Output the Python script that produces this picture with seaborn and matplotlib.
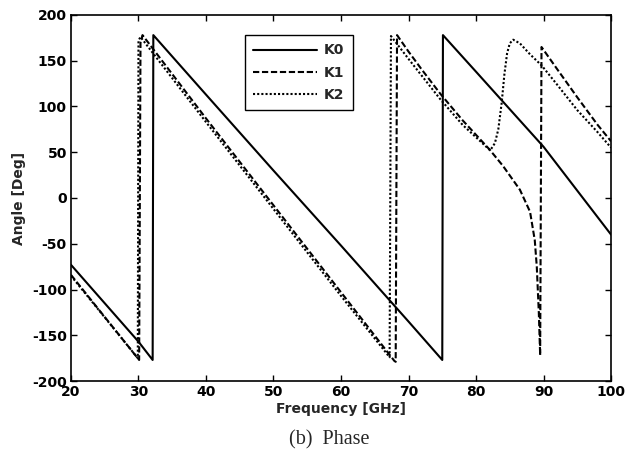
import numpy as np
import pandas as pd
import matplotlib
matplotlib.use("Agg")
import matplotlib.pyplot as plt
import seaborn as sns

# phase of K0 / K1 / K2 (frequency in GHz, angle in deg)
k0_freq = [20, 30, 32.1, 32.2, 40, 50, 60, 70, 75.0, 75.1, 80, 90, 100]
k0_angle = [-73, -157, -177, 178, 113, 30, -52, -135, -177, 178, 138, 56, -40]

k1_freq = [20, 30.1, 30.3, 30.6, 40, 50, 60, 67.9, 68.1, 68.3, 70, 72, 74.7, 78, 82, 84,
           86.5, 88, 88.7, 89.0, 89.3, 89.5, 89.7, 92, 95, 98, 100]
k1_angle = [-84, -177, 170, 178, 87, -8, -103, -178, -179, 178, 160, 140, 114, 85, 53, 35,
            9, -15, -46, -75, -125, -172, 165, 141, 110, 80, 62]

k2_freq = [20, 29.9, 30.0, 30.3, 40, 50, 60, 67.2, 67.4, 70, 74.7, 78, 82.1, 82.8, 83.3,
           83.8, 84.2, 84.6, 85.0, 85.5, 86.5, 88, 89.7, 92, 95, 98, 100]
k2_angle = [-85, -175, 172, 176, 83, -12, -107, -174, 177, 152, 108, 80, 52, 60, 75,
            104, 135, 158, 169, 173, 169, 157, 145, 124, 96, 72, 55]

series = ["K0", "K1", "K2"]

sns.set_style("ticks")
plt.rcParams["font.family"] = ["DejaVu Sans"]
plt.rcParams["font.weight"] = "bold"
plt.rcParams["axes.labelweight"] = "bold"
plt.rcParams["axes.unicode_minus"] = False

fig = plt.figure(figsize=(6.28, 4.61), dpi=100)
ax = fig.add_axes([0.113, 0.1735, 0.860, 0.794])

styles = {"K0": "-", "K1": (0, (3.0, 1.3)), "K2": (0, (1, 1.0))}
for name, f, a in zip(series, [k0_freq, k1_freq, k2_freq], [k0_angle, k1_angle, k2_angle]):
    df = pd.DataFrame({"freq": f, "angle": a})
    sns.lineplot(data=df, x="freq", y="angle", ax=ax, sort=False, color="black",
                 linewidth=1.5, linestyle=styles[name], label=name)

ax.set_xlim(20, 100)
ax.set_ylim(-200, 200)
ax.set_xticks(np.arange(20, 101, 10))
ax.set_yticks(np.arange(-200, 201, 50))
ax.tick_params(direction="in", top=True, right=True, length=4, width=1,
               labelsize=10, colors="black", pad=3)
for lab in ax.get_xticklabels() + ax.get_yticklabels():
    lab.set_fontweight("bold")
for sp in ax.spines.values():
    sp.set_visible(True)
    sp.set_linewidth(1.2)
    sp.set_color("black")

ax.set_xlabel("Frequency [GHz]", fontsize=10, fontweight="bold", labelpad=2)
ax.set_ylabel("Angle [Deg]", fontsize=10, fontweight="bold", labelpad=4)

leg = ax.legend(loc="upper left", bbox_to_anchor=(0.322, 0.945), borderaxespad=0,
                fancybox=False, edgecolor="black", framealpha=1, handlelength=4.6,
                handletextpad=0.5, prop={"weight": "bold", "size": 10},
                borderpad=0.6, labelspacing=0.6)
leg.get_frame().set_linewidth(1.0)

fig.text(0.525, 0.045, "(b)  Phase", ha="center", va="center", fontsize=14.5,
         family=["Liberation Serif", "DejaVu Serif"], fontweight="normal")

fig.savefig("out.png", dpi=100, facecolor="white")
